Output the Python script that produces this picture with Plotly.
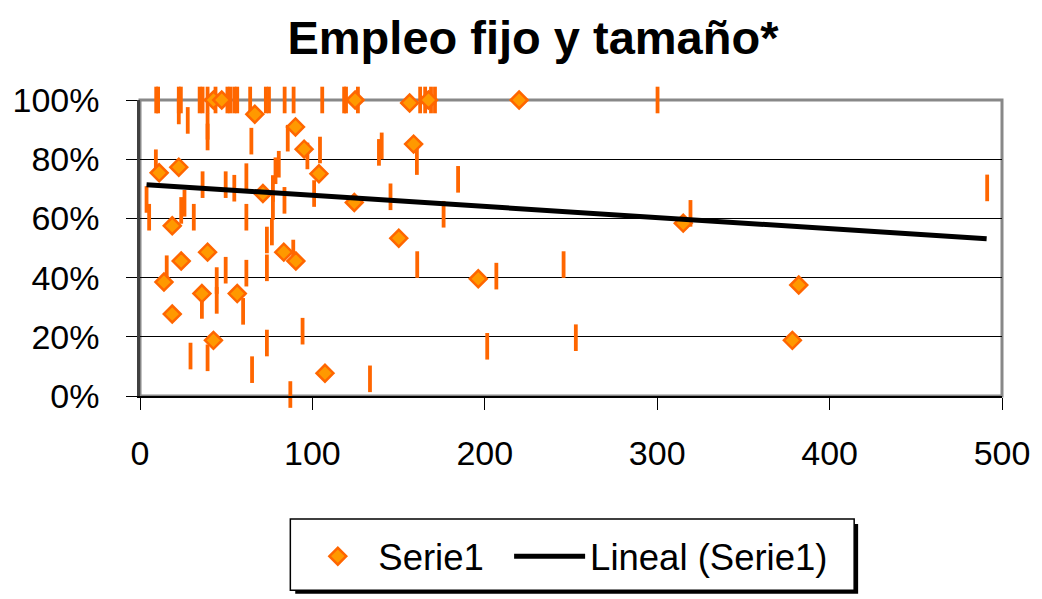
import plotly.graph_objects as go

# Serie1 (diamond markers): x = company size, y = % fixed employment
serie_x = [11.1, 22.5, 18.7, 23.9, 13.9, 18.7, 39.2, 35.9, 56.4, 42.6, 42.6, 47.4,
           66.6, 71.3, 90.2, 95.2, 83.4, 90.4, 103.8, 124.3, 124.8, 107.3, 150.1,
           156.4, 158.7, 167.3, 219.9, 196.2, 315.1, 382.1, 378.4]
serie_y = [75.4, 77.3, 57.5, 45.6, 38.5, 27.7, 48.6, 34.6, 34.6, 18.8, 100, 100,
           95.2, 68.4, 90.9, 83.4, 48.6, 45.6, 75.1, 65.4, 100, 7.7, 53.3,
           99.0, 85.1, 100, 100, 39.6, 58.4, 37.5, 18.8]

# Additional points drawn as short vertical dashes
dash_top_x = [9.4, 10.5, 22.5, 23.7, 34.6, 36.3, 39.2, 43.8, 50.7, 52.4, 54.7, 56.4,
              63.9, 73.0, 74.8, 83.9, 89.1, 105.7, 118.4, 119.5, 126.4, 162.5, 165.4,
              168.8, 171.1, 300.2]
dash_top_y = [100] * len(dash_top_x)
dash_other_x = [39.2, 39.2, 22.5, 27.7, 64.6, 9.2, 3.8, 5.3, 36.3, 49.7, 54.7, 61.7,
                61.7, 23.9, 25.8, 31.2, 15.5, 35.9, 44.5, 44.5, 49.7, 61.7, 59.8,
                29.3, 39.2, 65.0, 85.7, 104.4, 97.1, 80.5, 78.6, 77.1, 77.1, 83.8,
                101.0, 76.5, 73.6, 73.6, 88.9, 94.3, 73.6, 87.2, 138.6, 140.2, 160.6,
                184.5, 145.3, 176.1, 160.8, 206.7, 201.4, 133.4, 491.4, 319.3, 245.7,
                252.8]
dash_other_y = [91.1, 87.5, 96.3, 93.1, 86.1, 78.8, 66.4, 60.4, 71.4, 71.4, 70.2, 74.1,
                60.4, 62.7, 65.1, 60.4, 43.0, 30.6, 39.0, 32.3, 42.5, 41.5, 28.6,
                13.5, 12.9, 8.9, 87.1, 83.1, 81.1, 78.3, 76.1, 70.1, 64.0, 66.1,
                68.4, 55.4, 52.7, 43.3, 48.3, 21.9, 17.9, 0.5, 82.3, 84.5, 79.2,
                73.2, 67.3, 61.4, 44.4, 40.5, 16.8, 5.8, 70.3, 61.7, 44.4,
                19.7]
dash_x = dash_top_x + dash_other_x
dash_y = dash_top_y + dash_other_y

# Linear trend line (Lineal (Serie1)) end points
trend_x = [3.8, 491.1]
trend_y = [71.4, 53.1]

x_ticks = [0, 100, 200, 300, 400, 500]
y_ticks = [0, 20, 40, 60, 80, 100]
y_tick_labels = ["0%", "20%", "40%", "60%", "80%", "100%"]

fig = go.Figure()
fig.add_trace(go.Scatter(
    x=dash_x, y=dash_y, mode="markers", showlegend=False, hoverinfo="skip",
    cliponaxis=False,
    marker=dict(symbol="line-ns-open", size=19, color="#FF6600",
                line=dict(color="#FF6600", width=3.8))))
fig.add_trace(go.Scatter(
    x=serie_x, y=serie_y, mode="markers", name="Serie1\u00a0\u00a0",
    cliponaxis=False,
    marker=dict(symbol="diamond", size=13, color="#FF9900",
                line=dict(color="#FF6600", width=2.5))))
fig.add_trace(go.Scatter(
    x=trend_x, y=trend_y, mode="lines", name="Lineal (Serie1)",
    line=dict(color="black", width=5)))

font_family = "Liberation Sans, Arial, sans-serif"
fig.update_layout(
    width=1042, height=599,
    margin=dict(l=136, r=34.5, t=100, b=199.5),
    paper_bgcolor="white", plot_bgcolor="white",
    font=dict(family=font_family, color="black", size=34),
    title=dict(text="<b>Empleo fijo y tamaño*</b>", x=0.5115, xref="container",
               xanchor="center", y=0.937, yref="container", yanchor="middle",
               font=dict(size=47, family=font_family, color="black")),
    xaxis=dict(range=[0, 500], tickvals=x_ticks, showgrid=False, zeroline=False,
               showline=True, linecolor="black", linewidth=2,
               ticks="outside", ticklen=12, tickcolor="black", tickwidth=1,
               ticklabelstandoff=14, tickfont=dict(size=34)),
    yaxis=dict(range=[0, 100], tickvals=y_ticks, ticktext=y_tick_labels,
               showgrid=True, gridcolor="black", gridwidth=1, zeroline=False,
               showline=True, linecolor="#404040", linewidth=2.5,
               ticks="outside", ticklen=11, tickcolor="black", tickwidth=1,
               ticklabelstandoff=20, tickfont=dict(size=34)),
    legend=dict(orientation="h", x=0.1825, xanchor="left", y=-0.4391, yanchor="top",
                borderwidth=0, bgcolor="rgba(0,0,0,0)",
                font=dict(size=36.5), itemwidth=71),
    shapes=[
        dict(type="rect", xref="x domain", yref="y domain", x0=0, x1=1, y0=0, y1=1,
             line=dict(color="#888888", width=3), layer="below"),
        # legend shadow and frame
        dict(type="rect", xref="paper", yref="paper", x0=0.1801, x1=0.8331,
             y0=-0.6678, y1=-0.4324, fillcolor="black", line=dict(width=0),
             layer="above"),
        dict(type="rect", xref="paper", yref="paper", x0=0.1744, x1=0.8285,
             y0=-0.6561, y1=-0.4157, fillcolor="white",
             line=dict(color="black", width=1.5), layer="above"),
    ],
    showlegend=True,
)

fig.write_html("out.html")
